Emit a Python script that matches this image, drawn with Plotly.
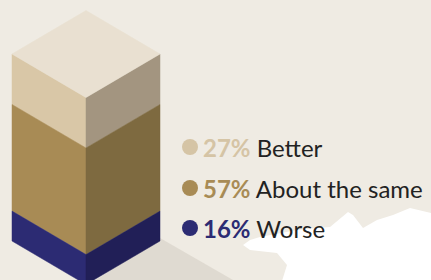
import plotly.graph_objects as go

# ---- data ----
categories = ["Better", "About the same", "Worse"]
values = [27, 57, 16]
front_colors = ["#d9c7a7", "#a88b55", "#2c2b73"]
side_colors = ["#a39580", "#7e6a40", "#211f57"]
top_color = "#e9e0d1"
label_colors = ["#d5c4a5", "#a88b55", "#2c2b73"]

W, H = 431, 280
# isometric box geometry (pixel-like coordinate space)
cx, halfw, dy = 86, 74, 43.5
y_left_top = 54
box_h = 187

fig = go.Figure()

# background torn white paper
torn_x = [243, 250, 260, 270, 297, 317, 330, 348, 353, 363, 377, 393, 410, 431, 431, 282, 287, 277, 250, 243]
torn_y = [245, 240, 237, 235, 230, 228, 227, 212, 215, 228, 220, 215, 208, 213, 281, 281, 265, 253, 250, 245]
fig.add_trace(go.Scatter(x=torn_x, y=torn_y, fill="toself", fillcolor="#ffffff",
                         line=dict(width=0), mode="lines", hoverinfo="skip", showlegend=False))

# shadow
bottom_left = y_left_top + box_h
fig.add_trace(go.Scatter(x=[cx + halfw, cx + halfw + 80, cx + halfw + 80, cx],
                         y=[bottom_left - 3, bottom_left + 43, 285, bottom_left + dy + 2],
                         fill="toself", fillcolor="rgba(170,160,145,0.22)",
                         line=dict(width=0), mode="lines", hoverinfo="skip", showlegend=False))

# stacked segments
t = 0.0
for v, fc, sc in zip(values, front_colors, side_colors):
    h = v / 100 * box_h
    b = t + h
    yl_t, yl_b = y_left_top + t, y_left_top + b
    # left face
    fig.add_trace(go.Scatter(x=[cx - halfw, cx, cx, cx - halfw, cx - halfw],
                             y=[yl_t, yl_t + dy, yl_b + dy, yl_b, yl_t],
                             fill="toself", fillcolor=fc, line=dict(width=0.5, color=fc),
                             mode="lines", hoverinfo="skip", showlegend=False))
    # right face
    fig.add_trace(go.Scatter(x=[cx, cx + halfw, cx + halfw, cx, cx],
                             y=[yl_t + dy, yl_t, yl_b, yl_b + dy, yl_t + dy],
                             fill="toself", fillcolor=sc, line=dict(width=0.5, color=sc),
                             mode="lines", hoverinfo="skip", showlegend=False))
    t = b

# top face
fig.add_trace(go.Scatter(x=[cx - halfw, cx, cx + halfw, cx, cx - halfw],
                         y=[y_left_top, y_left_top - dy, y_left_top, y_left_top + dy, y_left_top],
                         fill="toself", fillcolor=top_color, line=dict(width=0.5, color=top_color),
                         mode="lines", hoverinfo="skip", showlegend=False))

# legend
leg_y = [147, 188, 228]
fig.add_trace(go.Scatter(x=[190] * 3, y=leg_y, mode="markers",
                         marker=dict(size=16, color=label_colors, line=dict(width=0)),
                         hoverinfo="skip", showlegend=False))
for cat, v, col, yy in zip(categories, values, label_colors, leg_y):
    fig.add_annotation(x=201, y=yy, xanchor="left", yanchor="middle", showarrow=False,
                       text=f"<b><span style='color:{col}'>{v}%</span></b> {cat}",
                       font=dict(family="Lato", size=24, color="#222222"))

fig.update_xaxes(range=[0, W], visible=False, fixedrange=True)
fig.update_yaxes(range=[H, 0], visible=False, fixedrange=True)
fig.update_layout(width=W, height=H, margin=dict(l=0, r=0, t=0, b=0),
                  paper_bgcolor="#efebe3", plot_bgcolor="#efebe3")
fig.write_html("out.html", config={"displayModeBar": False},
               post_script="document.body.style.margin='0';document.body.style.overflow='hidden';")
